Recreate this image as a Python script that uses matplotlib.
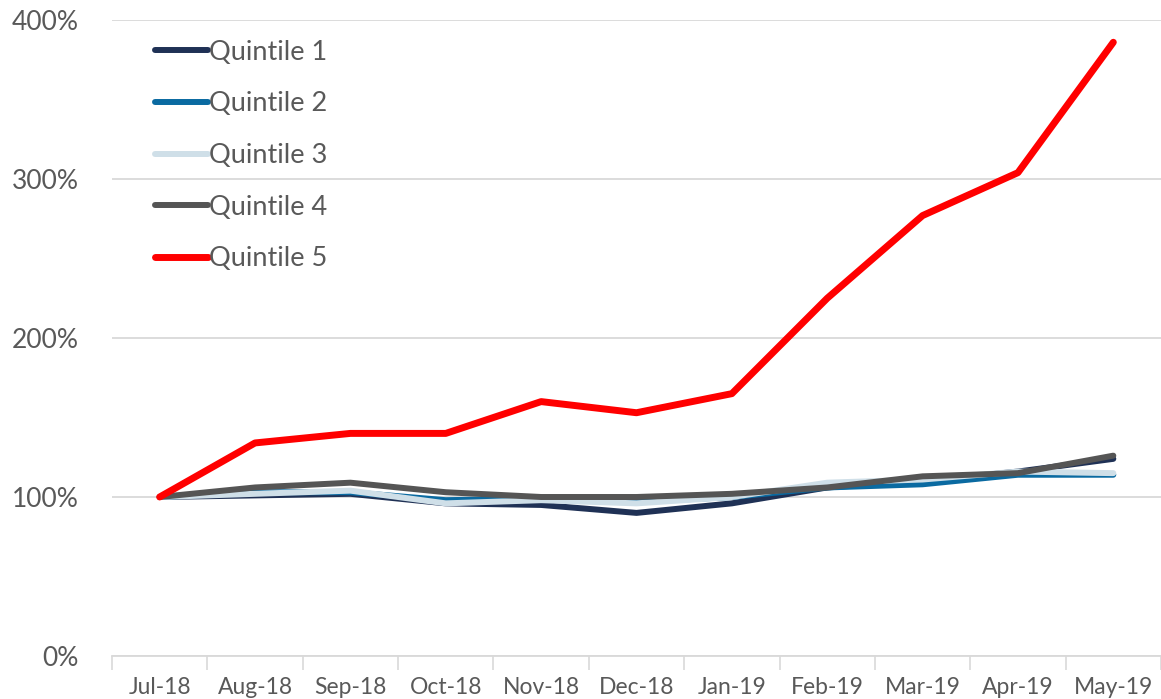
import matplotlib.pyplot as plt
import numpy as np

months = ["Jul-18", "Aug-18", "Sep-18", "Oct-18", "Nov-18", "Dec-18",
          "Jan-19", "Feb-19", "Mar-19", "Apr-19", "May-19"]

q1 = [100, 101, 102, 96, 95, 90, 96, 106, 110, 116, 124]
q2 = [100, 103, 103, 98, 99, 97, 100, 106, 108, 114, 114]
q3 = [100, 102, 104, 96, 98, 96, 100, 109, 111, 116, 115]
q4 = [100, 106, 109, 103, 100, 100, 102, 106, 113, 115, 126]
q5 = [100, 134, 140, 140, 160, 153, 165, 225, 277, 304, 386]

names = ["Quintile 1", "Quintile 2", "Quintile 3", "Quintile 4", "Quintile 5"]
colors = ["#1f3155", "#0a6aa1", "#cfdfe8", "#555555", "#ff0000"]

plt.rcParams['font.family'] = ['Lato', 'DejaVu Sans']
txt = "#595959"

fig = plt.figure(figsize=(11.61, 6.99), dpi=100)
ax = fig.add_axes([112/1161, 43/699, 1 - 112/1161, 636/699])

x = np.arange(len(months))
for s, name, c in zip([q1, q2, q3, q4, q5], names, colors):
    lw = 5.0 if name == "Quintile 5" else 4.3
    ax.plot(x, s, color=c, lw=lw, label=name, solid_capstyle="round",
            solid_joinstyle="round")

ax.set_xlim(-0.5, len(months) - 0.5)
ax.set_ylim(0, 400)
ax.set_yticks([0, 100, 200, 300, 400])
ax.set_yticklabels(["0%", "100%", "200%", "300%", "400%"])
ax.yaxis.grid(True, color="#d9d9d9", lw=1.3)
ax.set_axisbelow(True)

# boundary ticks, labels sit on the categories
ax.set_xticks(np.arange(-0.5, len(months)), labels=[])
ax.set_xticks(x, labels=months, minor=True)
ax.tick_params(axis="x", which="major", length=10, color="#d9d9d9", width=1.2)
ax.tick_params(axis="x", which="minor", length=0, pad=15, labelsize=16.5, labelcolor=txt)
ax.tick_params(axis="y", length=0, pad=24, labelsize=19, labelcolor=txt)

for side in ["top", "right", "left"]:
    ax.spines[side].set_visible(False)
ax.spines["bottom"].set_color("#d9d9d9")
ax.spines["bottom"].set_linewidth(1.3)

leg = ax.legend(loc="upper left", bbox_to_anchor=(0.018, 1.007), frameon=False,
                fontsize=19.5, labelcolor=txt, handlelength=1.95, handletextpad=0.05,
                labelspacing=0.98)

fig.savefig("out.png", dpi=100)
